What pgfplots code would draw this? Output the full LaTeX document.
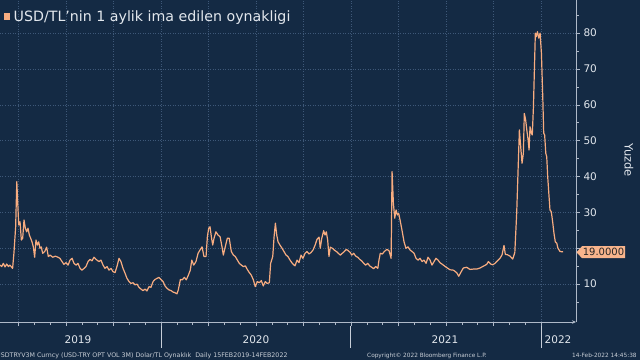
\documentclass[border=0pt]{standalone}
\usepackage{fontspec}
\setmainfont{DejaVu Sans}
\usepackage{pgfplots}
\pgfplotsset{compat=1.18}
\usetikzlibrary{arrows.meta}
\definecolor{bg}{RGB}{20,42,68}
\definecolor{gridcol}{RGB}{62,88,120}
\definecolor{linecol}{RGB}{247,172,128}
\definecolor{txtcol}{RGB}{226,231,237}
\definecolor{axiscol}{RGB}{175,185,200}
\definecolor{footcol}{RGB}{200,206,214}
\definecolor{boxcol}{RGB}{248,180,140}
\begin{document}
\begin{tikzpicture}[x=1pt,y=1pt]
\fill[bg] (0,0) rectangle (640,360);
\useasboundingbox (0,0) rectangle (640,360);
\begin{axis}[
  at={(0pt,38pt)}, anchor=south west, scale only axis,
  width=576pt, height=322pt,
  xmin=2019.1526, xmax=2022.184, ymin=-0.56, ymax=89.24,
  axis x line*=bottom, axis y line*=right,
  axis line style={draw=axiscol, line width=0.6pt},
  x axis line style={-{Stealth[length=4pt,width=3.5pt]}},
  xtick={2019.25,2019.5,2019.75,2020,2020.25,2020.5,2020.75,2021,2021.25,2021.5,2021.75,2022},
  xticklabels={},
  minor x tick num=2,
  ytick={10,20,30,40,50,60,70,80},
  yticklabels={10,,30,40,50,60,70,80},
  minor ytick={5,15,25,35,45,55,65,75,85},
  tick align=outside,
  major tick length=4pt, minor tick length=2.5pt,
  tick style={draw=axiscol, line width=0.6pt},
  grid=major,
  major grid style={draw=gridcol, line width=0.6pt, dash pattern=on 1pt off 1.5pt},
  yticklabel style={font=\fontsize{10.5}{12}\selectfont, text=txtcol, xshift=0pt},
  /pgf/number format/assume math mode=true,
]
\addplot[linecol, line width=1.2pt, line join=round] coordinates {
(2019.153,15.3)(2019.162,14.9)(2019.170,15.8)(2019.179,14.8)(2019.188,15.6)(2019.197,14.9)(2019.205,15.3)(2019.219,14.4)(2019.226,18.7)(2019.235,26.0)(2019.241,38.6)(2019.246,32.6)(2019.251,26.5)(2019.258,27.4)(2019.265,22.3)(2019.272,22.8)(2019.279,27.9)(2019.286,25.6)(2019.293,24.6)(2019.300,25.6)(2019.307,23.7)(2019.314,22.8)(2019.321,21.8)(2019.328,20.4)(2019.335,17.5)(2019.342,22.3)(2019.349,20.9)(2019.356,21.8)(2019.363,20.0)(2019.370,20.4)(2019.377,18.6)(2019.388,19.1)(2019.398,20.3)(2019.407,17.7)(2019.416,18.1)(2019.430,17.5)(2019.444,17.8)(2019.458,17.5)(2019.468,17.2)(2019.479,16.3)(2019.489,15.5)(2019.500,16.0)(2019.511,15.3)(2019.521,16.7)(2019.532,17.2)(2019.542,15.8)(2019.553,15.3)(2019.563,15.8)(2019.574,14.4)(2019.584,13.9)(2019.595,14.4)(2019.605,14.9)(2019.616,16.3)(2019.626,16.9)(2019.637,16.5)(2019.647,17.5)(2019.658,16.9)(2019.668,16.5)(2019.674,16.3)(2019.684,16.7)(2019.695,15.3)(2019.705,14.4)(2019.716,14.9)(2019.726,13.9)(2019.737,14.4)(2019.747,13.5)(2019.758,13.2)(2019.768,14.9)(2019.779,17.2)(2019.789,16.3)(2019.800,14.4)(2019.811,13.0)(2019.821,11.6)(2019.832,10.7)(2019.842,10.2)(2019.853,10.4)(2019.863,9.8)(2019.874,10.0)(2019.884,9.1)(2019.895,8.6)(2019.905,8.2)(2019.916,8.6)(2019.926,8.1)(2019.937,9.3)(2019.947,9.1)(2019.958,10.7)(2019.968,11.3)(2019.979,11.6)(2019.989,11.9)(2020.000,11.3)(2020.011,10.7)(2020.021,9.5)(2020.032,8.8)(2020.042,8.4)(2020.053,8.2)(2020.063,7.8)(2020.074,7.6)(2020.084,7.3)(2020.091,8.4)(2020.102,11.3)(2020.112,11.2)(2020.123,11.9)(2020.133,11.2)(2020.144,12.5)(2020.154,13.9)(2020.162,16.7)(2020.172,15.3)(2020.184,16.3)(2020.195,18.6)(2020.205,19.5)(2020.216,20.4)(2020.226,17.7)(2020.237,17.7)(2020.244,23.2)(2020.251,25.6)(2020.258,26.0)(2020.265,23.2)(2020.272,20.9)(2020.279,22.8)(2020.289,24.6)(2020.300,23.7)(2020.311,23.2)(2020.321,20.4)(2020.328,18.1)(2020.338,20.4)(2020.349,22.8)(2020.359,22.8)(2020.370,19.1)(2020.381,18.1)(2020.391,17.7)(2020.402,16.7)(2020.412,15.8)(2020.423,15.3)(2020.433,14.9)(2020.444,15.1)(2020.454,14.1)(2020.465,13.2)(2020.475,12.5)(2020.486,11.2)(2020.496,9.3)(2020.507,10.7)(2020.517,10.4)(2020.528,11.0)(2020.538,9.5)(2020.549,10.7)(2020.559,10.2)(2020.570,10.4)(2020.577,15.8)(2020.588,17.7)(2020.595,23.2)(2020.602,27.0)(2020.609,23.7)(2020.616,21.8)(2020.626,20.9)(2020.637,20.0)(2020.647,19.1)(2020.658,18.1)(2020.668,17.7)(2020.679,16.7)(2020.691,15.8)(2020.705,15.1)(2020.716,16.7)(2020.726,16.0)(2020.737,18.1)(2020.747,17.2)(2020.758,18.6)(2020.768,19.1)(2020.779,18.4)(2020.789,18.8)(2020.800,19.5)(2020.811,20.9)(2020.821,22.5)(2020.832,23.1)(2020.838,20.0)(2020.846,22.8)(2020.856,24.9)(2020.863,23.7)(2020.870,24.6)(2020.877,22.3)(2020.884,17.7)(2020.891,20.3)(2020.902,20.0)(2020.912,19.5)(2020.923,19.1)(2020.933,18.6)(2020.944,18.1)(2020.954,18.6)(2020.965,19.1)(2020.975,19.7)(2020.986,19.3)(2020.996,18.8)(2021.004,18.1)(2021.014,18.6)(2021.025,17.8)(2021.035,17.5)(2021.046,16.9)(2021.056,16.5)(2021.067,15.8)(2021.077,15.3)(2021.088,15.8)(2021.098,15.1)(2021.109,14.7)(2021.119,14.3)(2021.130,14.9)(2021.141,14.4)(2021.147,16.7)(2021.154,18.6)(2021.165,18.4)(2021.175,19.1)(2021.189,19.7)(2021.200,19.3)(2021.211,17.2)(2021.216,41.4)(2021.223,32.5)(2021.230,28.4)(2021.237,30.7)(2021.244,29.3)(2021.251,29.7)(2021.258,27.9)(2021.268,25.1)(2021.279,21.8)(2021.289,20.0)(2021.300,20.4)(2021.311,19.5)(2021.321,19.1)(2021.332,18.6)(2021.342,17.2)(2021.353,16.7)(2021.363,17.2)(2021.374,16.3)(2021.384,16.7)(2021.395,15.8)(2021.405,17.5)(2021.416,16.7)(2021.426,15.3)(2021.437,16.3)(2021.447,17.2)(2021.458,16.7)(2021.468,16.0)(2021.486,15.3)(2021.504,14.6)(2021.521,14.0)(2021.539,13.9)(2021.556,13.2)(2021.567,12.2)(2021.577,13.2)(2021.591,14.5)(2021.609,14.7)(2021.626,14.1)(2021.644,14.2)(2021.662,14.2)(2021.679,14.5)(2021.696,15.0)(2021.714,15.5)(2021.723,16.3)(2021.735,15.6)(2021.746,15.4)(2021.758,15.8)(2021.770,16.5)(2021.784,17.2)(2021.795,18.2)(2021.805,20.8)(2021.812,18.3)(2021.823,18.2)(2021.837,17.8)(2021.851,17.0)(2021.862,18.8)(2021.872,30.0)(2021.886,53.0)(2021.893,48.3)(2021.900,43.7)(2021.907,46.5)(2021.912,57.6)(2021.919,55.8)(2021.925,53.0)(2021.932,50.2)(2021.937,47.4)(2021.942,53.9)(2021.949,52.1)(2021.954,51.6)(2021.960,59.5)(2021.965,69.7)(2021.970,80.0)(2021.975,79.0)(2021.981,80.4)(2021.988,78.6)(2021.995,80.0)(2022.002,74.4)(2022.009,62.3)(2022.014,52.1)(2022.019,51.6)(2022.025,46.5)(2022.030,45.5)(2022.035,40.0)(2022.041,35.3)(2022.047,30.7)(2022.054,30.2)(2022.062,27.0)(2022.068,24.2)(2022.075,21.8)(2022.083,21.4)(2022.089,20.0)(2022.100,19.1)(2022.116,19.0)
};
\end{axis}
% title
\fill[linecol] (4,340.5) rectangle (10,347.5);
\node[anchor=west, inner sep=0pt, text=txtcol, font=\fontsize{14.2}{16}\selectfont] at (13.5,342) {USD/TL'nin 1 aylik ima edilen oynakligi};
% y axis title
\node[rotate=-90, text=txtcol, font=\fontsize{11.5}{13}\selectfont] at (629,200) {Yuzde};
% last value box
\fill[boxcol] (576.5,107.8) -- (582,113.8) -- (625,113.8) -- (625,101.8) -- (582,101.8) -- cycle;
\node[text=black!85, font=\fontsize{10}{11}\selectfont, inner sep=0pt] at (603.5,107.8) {19.0000};
% year labels
\foreach \xx/\yy in {78/2019,256/2020,445/2021,558/2022}
  \node[text=txtcol, font=\fontsize{10.5}{12}\selectfont] at (\xx,20) {\yy};
\foreach \xx in {161,350,541}
  \draw[axiscol!70, line width=0.6pt] (\xx,34) -- (\xx,12);
% footer
\node[anchor=base west, inner sep=0pt, text=footcol, font=\fontsize{6.3}{7}\selectfont] at (-4,2.5) {USDTRYV3M Curncy (USD-TRY OPT VOL 3M) Dolar/TL Oynaklık\ \ Daily 15FEB2019-14FEB2022};
\node[anchor=base west, inner sep=0pt, text=footcol, font=\fontsize{5.8}{7}\selectfont] at (367,2.5) {Copyright© 2022 Bloomberg Finance L.P.};
\node[anchor=base west, inner sep=0pt, text=footcol, font=\fontsize{5.8}{7}\selectfont] at (572,2.5) {14-Feb-2022 14:45:38};
\end{tikzpicture}
\end{document}
